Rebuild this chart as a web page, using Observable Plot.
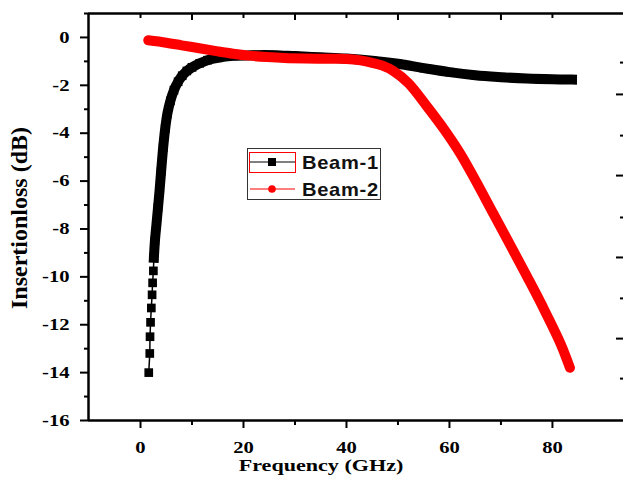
<!DOCTYPE html>
<html>
<head>
<meta charset="utf-8">
<script src="https://cdn.jsdelivr.net/npm/d3@7"></script>
<script src="https://cdn.jsdelivr.net/npm/@observablehq/plot@0.6"></script>
<style>
  body { margin: 0; background: #fff; }
  #wrap { position: relative; width: 623px; height: 482px; overflow: hidden; }
  #legend { position: absolute; left: 0; top: 0; pointer-events: none; }
</style>
</head>
<body>
<div id="wrap"></div>
<script>
// ---- data ----
const beam1Freq = [1.6, 1.8, 1.85, 1.95, 2.1, 2.25, 2.35, 2.5, 2.6, 2.8, 3.1, 3.4, 3.7, 4.0, 4.4, 4.8, 5.2, 5.8, 6.5, 7.3, 8.1, 9, 10, 11.5, 13, 15, 18, 22, 26, 30, 35, 40, 45, 50, 55, 60, 65, 70, 75, 80, 83.8];
const beam1Loss = [-14.0, -13.2, -12.5, -11.9, -11.3, -10.75, -10.25, -9.75, -9.2, -8.5, -7.8, -7.1, -6.4, -5.6, -4.6, -3.8, -3.2, -2.65, -2.2, -1.85, -1.6, -1.4, -1.25, -1.08, -0.95, -0.85, -0.77, -0.74, -0.74, -0.78, -0.83, -0.88, -0.97, -1.1, -1.28, -1.45, -1.58, -1.66, -1.72, -1.75, -1.76];
const beam2Freq = [1.5, 5, 8, 11.7, 15, 18, 21, 24.6, 28, 32, 37.5, 40, 42.7, 45, 47, 49.1, 52, 55.7, 59, 62.1, 65, 68.5, 72, 75.1, 78, 81.6, 83.4];
const beam2Loss = [-0.12, -0.22, -0.33, -0.46, -0.58, -0.68, -0.76, -0.82, -0.86, -0.88, -0.89, -0.9, -0.96, -1.06, -1.18, -1.4, -1.9, -2.9, -3.85, -4.85, -5.95, -7.35, -8.75, -10.0, -11.2, -12.8, -13.8];
const seriesNames = ["Beam-1", "Beam-2"];
const xTitle = "Frequency (GHz)";
const yTitle = "Insertionloss (dB)";
const xDomain = [-10.1, 93.8];
const yDomain = [-16, 1.0];
const xMajor = [0, 20, 40, 60, 80];
const xMinor = [10, 30, 50, 70];
const yMajor = [0, -2, -4, -6, -8, -10, -12, -14, -16];
const yMinor = [1, -1, -3, -5, -7, -9, -11, -13, -15];
const topShort = [0, 20, 40, 60, 80];
const topLong = [10, 30, 50, 70];
const rightMajor = [-2.38, -5.77, -9.19, -12.58];
const rightMinor = [-1.05, -4.10, -7.52, -10.90, -14.25];

const b1 = beam1Freq.map((f, i) => ({f, loss: beam1Loss[i]}));
const b1Thick = b1.filter(d => d.f >= 2.55);
const b2 = beam2Freq.map((f, i) => ({f, loss: beam2Loss[i]}));

const W = 623, H = 482, mL = 88, mR = 0, mT = 13, mB = 62;
const plotH = H - mT - mB, plotW = W - mL - mR;
const serif = "'Liberation Serif', 'Times New Roman', serif";
const fmt = d => String(d);

const chart = Plot.plot({
  width: W, height: H,
  marginLeft: mL, marginRight: mR, marginTop: mT, marginBottom: mB,
  x: {domain: xDomain},
  y: {domain: yDomain},
  style: {fontFamily: serif, fontSize: "16px", fontWeight: "bold", color: "#000", background: "#fff"},
  marks: [
    Plot.line(b1, {x: "f", y: "loss", stroke: "#000", strokeWidth: 1.5}),
    Plot.line(b1Thick, {x: "f", y: "loss", curve: "catmull-rom", stroke: "#000", strokeWidth: 10, strokeLinecap: "square", strokeLinejoin: "round"}),
    Plot.dot(b1, {x: "f", y: "loss", symbol: "square", r: 4.9, fill: "#000", stroke: "none"}),
    Plot.line(b2, {x: "f", y: "loss", curve: "catmull-rom", stroke: "#ff0000", strokeWidth: 10, strokeLinecap: "round", strokeLinejoin: "round"}),
    Plot.ruleX([xDomain[0]], {stroke: "#000", strokeWidth: 2.5}),
    Plot.ruleY([yDomain[0]], {stroke: "#000", strokeWidth: 2.5}),
    Plot.ruleY([yDomain[1]], {stroke: "#000", strokeWidth: 2.5}),
    Plot.axisY({ticks: yMajor, tickSize: 8, tickPadding: 11, tickFormat: fmt, label: null, strokeWidth: 2, fontSize: 16.5}),
    Plot.axisY({ticks: yMinor, tickSize: 4, tickFormat: () => "", label: null, strokeWidth: 2}),
    Plot.axisX({ticks: xMajor, tickSize: 8, tickPadding: 13, tickFormat: fmt, label: null, strokeWidth: 2, fontSize: 16.5}),
    Plot.axisX({ticks: xMinor, tickSize: 5, tickFormat: () => "", label: null, strokeWidth: 2}),
    Plot.tickX(topShort, {x: d => d, stroke: "#000", strokeWidth: 2, insetBottom: plotH - 5}),
    Plot.tickX(topLong, {x: d => d, stroke: "#000", strokeWidth: 2, insetBottom: plotH - 7}),
    Plot.tickY(rightMajor, {y: d => d, stroke: "#000", strokeWidth: 2, insetLeft: plotW - 7}),
    Plot.tickY(rightMinor, {y: d => d, stroke: "#000", strokeWidth: 2, insetLeft: plotW - 3}),
    Plot.text([yTitle], {text: d => d, frameAnchor: "left", rotate: -90, dx: -62, dy: 1, lineAnchor: "bottom", textAnchor: "middle", fontSize: 24, fontWeight: "bold", fill: "#000"}),
    Plot.text([xTitle], {text: d => d, frameAnchor: "bottom", dx: -35, dy: 50, lineAnchor: "bottom", textAnchor: "middle", fontSize: 17, fontWeight: "bold", fill: "#000"})
  ]
});

// the reference's text is stretched horizontally; reproduce with a scale on the glyphs
function stretch(el, sx) {
  const xa = el.getAttribute("x");
  if (xa !== null && isFinite(+xa)) el.setAttribute("x", (+xa) / sx);
  const t = el.getAttribute("transform") || "";
  el.setAttribute("transform", `${t} scale(${sx},1)`);
}
const tickStrings = new Set([...yMajor, ...xMajor].map(fmt));
d3.select(chart).selectAll("text").each(function() {
  if (tickStrings.has(this.textContent)) {
    this.style.fontWeight = "bold";
    stretch(this, 1.25);
  }
  if (this.textContent === xTitle) stretch(this, 1.3);
});

const wrap = document.getElementById("wrap");
wrap.appendChild(chart);

// ---- legend overlay ----
const lg = d3.create("svg").attr("id", "legend").attr("width", W).attr("height", H);
const bx = 247, by = 148, bw = 133, bh = 51;
lg.append("rect").attr("x", bx + 0.5).attr("y", by + 0.5).attr("width", bw).attr("height", bh)
  .attr("fill", "#fff").attr("stroke", "#333").attr("stroke-width", 1);
const rows = [{name: seriesNames[0], color: "#000", y: 162}, {name: seriesNames[1], color: "#ff0000", y: 189}];
lg.append("rect").attr("x", 249.5).attr("y", 152.5).attr("width", 46).attr("height", 20)
  .attr("fill", "none").attr("stroke", "#ff0000").attr("stroke-width", 1);
rows.forEach((r, i) => {
  lg.append("line").attr("x1", 250).attr("x2", 295).attr("y1", r.y).attr("y2", r.y)
    .attr("stroke", r.color).attr("stroke-width", 1.2);
  if (i === 0) {
    lg.append("rect").attr("x", 268).attr("y", r.y - 4).attr("width", 8).attr("height", 8).attr("fill", "#000");
  } else {
    lg.append("circle").attr("cx", 272).attr("cy", r.y).attr("r", 3.8).attr("fill", "#ff0000");
  }
  lg.append("text").attr("transform", `translate(302,${r.y + 6.5}) scale(1.15,1)`).text(r.name)
    .attr("font-family", "'Liberation Sans', Arial, sans-serif").attr("font-size", 17.5)
    .attr("font-weight", "bold").attr("letter-spacing", "0.6px").attr("fill", "#111");
});
wrap.appendChild(lg.node());
</script>
</body>
</html>
